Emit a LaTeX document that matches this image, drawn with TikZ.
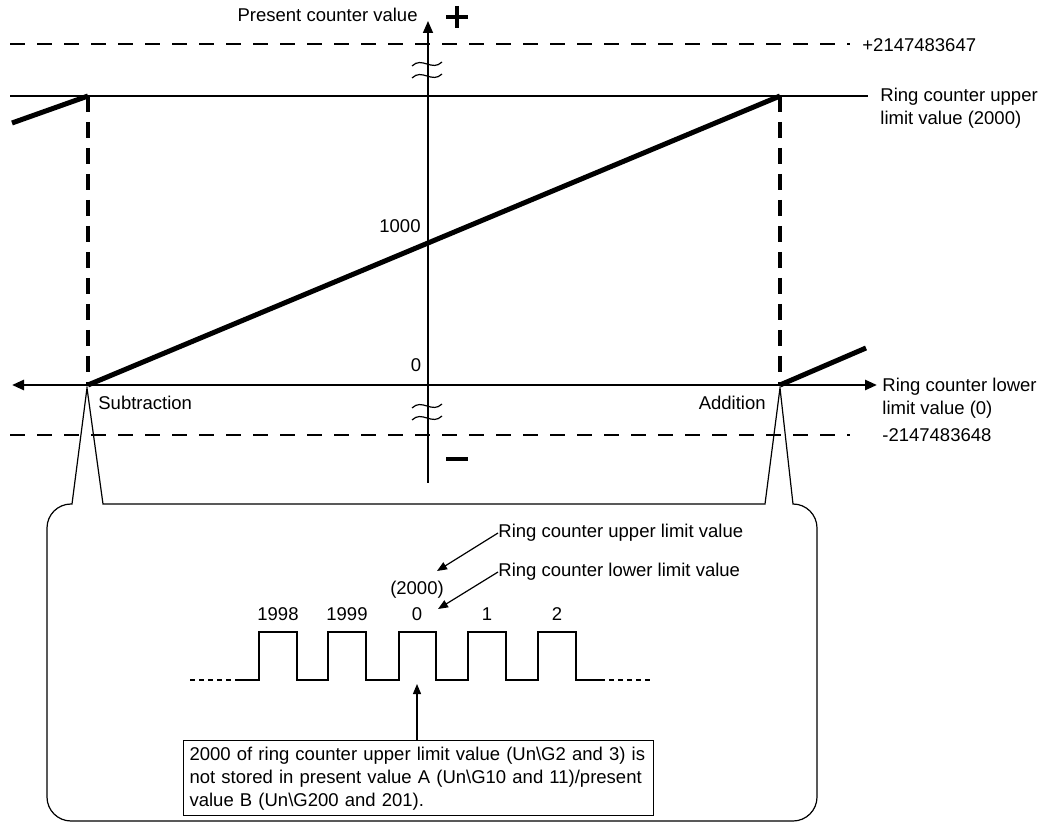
\documentclass[tikz,border=0pt]{standalone}
\usepackage{fontspec}
\setmainfont{Liberation Sans}
\usetikzlibrary{arrows.meta}

\begin{document}
\begin{tikzpicture}[x=0.5pt,y=-0.5pt]
    \tikzset{lbl/.style = {inner sep=0pt, align=left, font=\fontsize{9.25}{11.5}\selectfont}}
    \tikzset{limit/.style = {line width=1.1pt}}
    \tikzset{axis/.style = {line width=0.8pt, -{Triangle[length=6pt,width=5pt]}}}
    \tikzset{haxis/.style = {line width=1.3pt, {Triangle[length=6pt,width=5pt]}-{Triangle[length=6pt,width=5pt]}}}
    \tikzset{ramp/.style = {line width=2.5pt}}
    \tikzset{vdash/.style = {line width=2pt, dash pattern=on 8pt off 5pt}}
    \tikzset{bound/.style = {line width=0.6pt, dash pattern=on 7.5pt off 6pt}}
    \tikzset{thin/.style = {line width=0.6pt}}
    \tikzset{edge/.style = {line width=0.6pt, -{Triangle[length=5pt,width=4pt]}}}
    \useasboundingbox (0,0) rectangle (1055,823);

    % bounds of the counter
    \draw[bound] (10,44) -- (850,44);
    \draw[bound] (10,435) -- (850,435);
    \node[lbl,anchor=west] (pmax) at (862,45) {+2147483647};
    \node[lbl,anchor=west] (pmin) at (882,435) {-2147483648};

    % upper limit
    \coordinate (ul) at (10,96);
    \coordinate (ur) at (868,96);
    \draw[limit] (ul) -- (ur);
    \node[lbl,anchor=west] (upper) at (880,108) {Ring counter upper\\limit value (2000)};

    % axes
    \coordinate (vbot) at (428,483);
    \coordinate (vtop) at (428,21);
    \coordinate (hleft) at (12,385);
    \coordinate (hright) at (877,385);
    \draw[axis] (vbot) -- (vtop);
    \draw[haxis] (hleft) -- (hright);
    \node[lbl,anchor=east] (pcv) at (418,15) {Present counter value};
    \node[lbl,anchor=west] (lower) at (882,398) {Ring counter lower\\limit value (0)};
    \node[lbl] (v0) at (416,365) {0};
    \node[lbl] (v1000) at (400,226) {1000};
    \node[lbl,anchor=west] (subt) at (98,403) {Subtraction};
    \node[lbl,anchor=east] (addn) at (766,403) {Addition};

    % plus / minus
    \draw[line width=2pt] (446,17) -- (468,17) (457,6) -- (457,28);
    \draw[line width=2pt] (446,459) -- (468,459);

    % breaks
    \draw[thin] (412,66) .. controls (422,56) and (432,72) .. (442,62);
    \draw[thin] (412,78) .. controls (422,68) and (432,84) .. (442,74);
    \draw[thin] (412,408) .. controls (422,398) and (432,414) .. (442,404);
    \draw[thin] (412,420) .. controls (422,410) and (432,426) .. (442,416);

    % counter value
    \coordinate (sub) at (88,385);
    \coordinate (add) at (780,385);
    \coordinate (subtop) at (88,96);
    \coordinate (addtop) at (780,96);
    \coordinate (lend) at (12,123);
    \coordinate (rend) at (866,348);
    \draw[vdash] (subtop) -- (sub);
    \draw[vdash] (addtop) -- (add);
    \draw[ramp] (sub) -- (addtop);
    \draw[ramp] (lend) -- (subtop);
    \draw[ramp] (add) -- (rend);

    % callout
    \draw[thin] (103,504) -- (87,388) -- (72,504) [rounded corners=12pt] -- (47,504) -- (47,821)
        -- (817,821) -- (817,504) [sharp corners] -- (793,504) -- (780,388) -- (765,504) -- cycle;

    % pulses
    \draw[thin] (238,680) -| (259,632) -| (297,680) -| (328,632) -| (366,680) -| (399,632)
        -| (436,680) -| (468,632) -| (506,680) -| (538,632) -| (576,680) -- (600,680);
    \draw[thin,dash pattern=on 2.5pt off 2pt] (190,680) -- (238,680);
    \draw[thin,dash pattern=on 2.5pt off 2pt] (600,680) -- (650,680);
    \foreach \v/\x in {1998/278, 1999/347, 0/417, 1/487, 2/557}
        \node[lbl] (p\v) at (\x,614) {\v};
    \node[lbl] (p2000) at (417,590) {(2000)};

    \node[lbl,anchor=west] (ulv) at (498,533) {Ring counter upper limit value};
    \node[lbl,anchor=west] (llv) at (498,572) {Ring counter lower limit value};
    \coordinate (ulp) at (437,571);
    \coordinate (llp) at (438,609);
    \draw[edge] (ulv.west) -- (ulp);
    \draw[edge] (llv.west) -- (llp);

    \node[lbl,draw,thin,inner sep=3pt,anchor=north west,text width=229pt] (note) at (183,740)
        {2000 of ring counter upper limit value (Un\textbackslash G2 and 3) is\\
         not stored in present value A (Un\textbackslash G10 and 11)/present\\
         value B (Un\textbackslash G200 and 201).};
    \coordinate (ptr) at (417,684);
    \draw[edge] (note.north -| ptr) -- (ptr);
\end{tikzpicture}
\end{document}
